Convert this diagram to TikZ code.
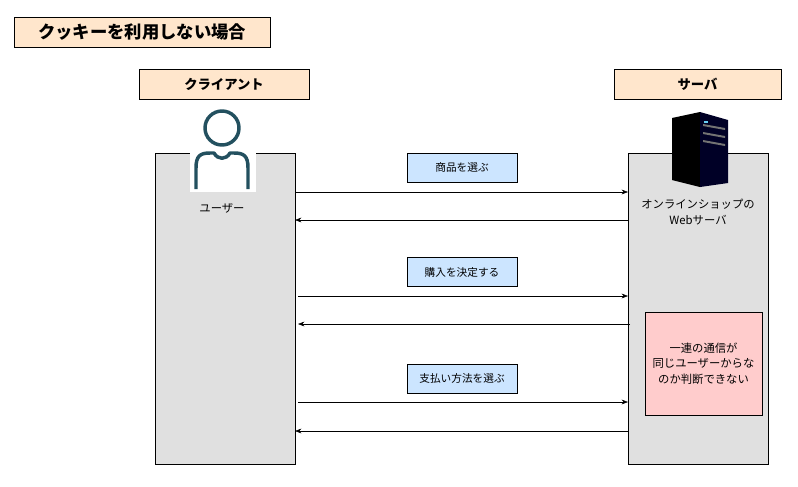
\documentclass[tikz,border=0pt]{standalone}
\usepackage{fontspec}
\setmainfont{Noto Sans CJK JP}
\usetikzlibrary{arrows.meta,positioning}
\definecolor{msgblue}{HTML}{CCE5FF}
\definecolor{hdrorange}{HTML}{FFE6CC}
\definecolor{iconteal}{HTML}{23505F}
\tikzset{
    every picture/.style = {
        > = Stealth,
        x = 0.75pt,
        y = -0.75pt
    },
    hdr/.style = {
        draw, fill = hdrorange, inner sep = 0pt,
        font = \bfseries\fontsize{10}{12}\selectfont
    },
    lane/.style = {draw, fill = black!12, inner sep = 0pt},
    msg/.style = {
        draw, fill = msgblue, inner sep = 0pt,
        minimum width = 82.5pt, minimum height = 22pt,
        font = \fontsize{8}{10}\selectfont
    },
    txt/.style = {align = center, font = \fontsize{8.5}{11.5}\selectfont}
}
\begin{document}
\begin{tikzpicture}
    \useasboundingbox (0, 0) rectangle (798, 486);
    % headers
    \node[hdr, minimum width = 192pt, minimum height = 22.5pt, font = \bfseries\fontsize{13}{15}\selectfont] (title) at (142, 32) {クッキーを利用しない場合};
    \node[hdr, minimum width = 127.5pt, minimum height = 22.5pt] (client) at (224, 84) {クライアント};
    \node[hdr, minimum width = 125pt, minimum height = 22.5pt] (server) at (697.5, 84) {サーバ};
    % lanes
    \node[lane, minimum width = 105pt, minimum height = 233pt] (clane) at (225, 308.5) {};
    \node[lane, minimum width = 105pt, minimum height = 233pt] (slane) at (698, 308.5) {};
    % user icon
    \fill[white] (190, 150) rectangle (256, 192);
    \draw[draw = iconteal, line width = 2.6pt] (222, 128) circle (17);
    \draw[draw = iconteal, line width = 2.6pt, line join = round]
        (196, 189) -- (196, 168) .. controls (196, 156) and (200, 153) .. (210, 153)
        -- (214, 153) .. controls (218, 160) and (226, 160) .. (230, 153)
        -- (234, 153) .. controls (244, 153) and (248, 156) .. (248, 168) -- (248, 189);
    \node[txt] (user) at (222, 208) {ユーザー};
    % server tower
    \fill[black] (672, 118) -- (700, 112) -- (700, 187) -- (672, 180) -- cycle;
    \fill[black!75!blue!60!black] (700, 112) -- (728, 120) -- (728, 183) -- (700, 187) -- cycle;
    \foreach \yy in {124, 132, 140} {
        \fill[black!55] (703, \yy) -- (725, \yy + 4) -- (725, \yy + 6) -- (703, \yy + 2) -- cycle;
    }
    \fill[cyan!60] (704, 121) rectangle (708, 122.5);
    \node[txt] (web) at (698, 212) {オンラインショップの\\Webサーバ};
    % messages
    \node[msg] (m1) at (462, 167.5) {商品を選ぶ};
    \node[msg] (m2) at (462, 272) {購入を決定する};
    \node[msg] (m3) at (462, 378.5) {支払い方法を選ぶ};
    \coordinate (c1) at (295, 192); \coordinate (s1) at (628, 192);
    \coordinate (c2) at (295, 220); \coordinate (s2) at (628, 220);
    \coordinate (c3) at (298, 296); \coordinate (s3) at (628, 296);
    \coordinate (c4) at (298, 324); \coordinate (s4) at (630, 324);
    \coordinate (c5) at (298, 402); \coordinate (s5) at (628, 402);
    \coordinate (c6) at (295, 431); \coordinate (s6) at (628, 431);
    \draw[->] (c1) -- (s1);
    \draw[->] (s2) -- (c2);
    \draw[->] (c3) -- (s3);
    \draw[->] (s4) -- (c4);
    \draw[->] (c5) -- (s5);
    \draw[->] (s6) -- (c6);
    % note
    \node[draw, fill = red!20, minimum width = 87.75pt, minimum height = 77.25pt, inner sep = 0pt, txt] (note) at (703.5, 363.5) {一連の通信が\\同じユーザーからな\\のか判断できない};
\end{tikzpicture}
\end{document}
